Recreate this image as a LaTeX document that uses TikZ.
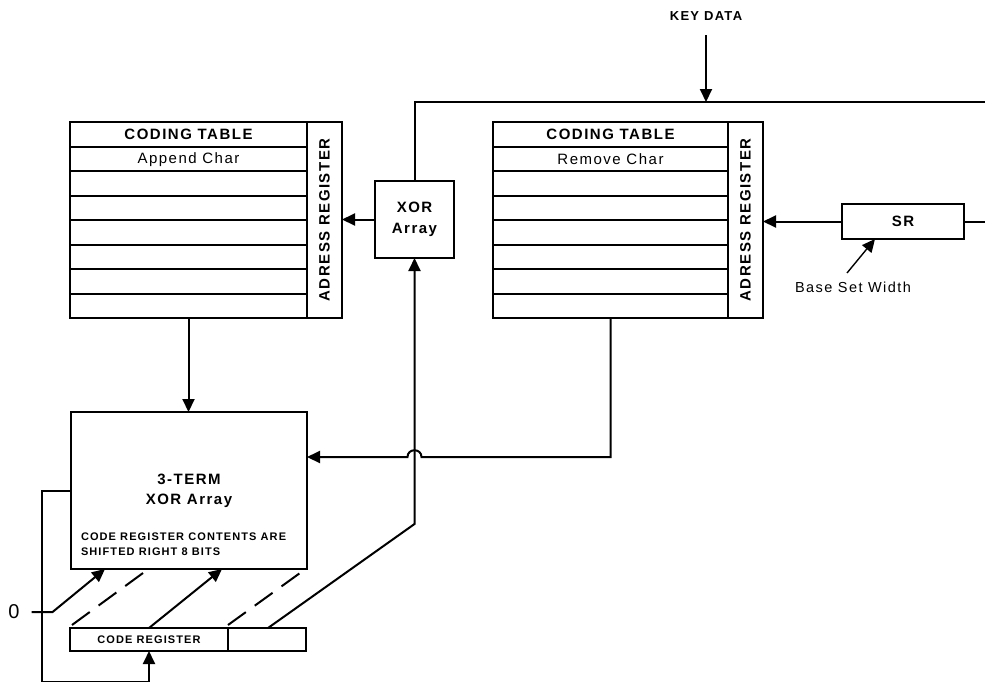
\documentclass[tikz,border=0pt]{standalone}
\usepackage{fontspec}
\setmainfont{Liberation Sans}[LetterSpace=10]
\usetikzlibrary{arrows.meta,calc}
\begin{document}
\begin{tikzpicture}[x=1pt,y=-1pt,line width=2pt,
  box/.style={draw,line width=2pt,inner sep=0pt,outer sep=0pt},
  arr/.style={-{Triangle[length=13pt,width=12pt]}},
  dsh/.style={dash pattern=on 22pt off 11pt},
  hdr/.style={inner sep=0pt,font=\fontsize{15}{18}\selectfont\bfseries},
  reg/.style={inner sep=0pt,font=\fontsize{15}{18}\selectfont},
  small/.style={inner sep=0pt,font=\fontsize{11}{15}\selectfont\bfseries}]
\useasboundingbox (0,0) rectangle (985,681);

% left coding table
\node[box,minimum width=237,minimum height=196,anchor=north west] (ctL) at (70,122) {};
\node[box,minimum width=35,minimum height=196,anchor=north west] (arL) at (307,122) {};
\foreach \y in {146.5,171,195.5,220,244.5,269,293.5} \draw (70,\y) -- (307,\y);
\node[hdr] (ctLh) at (188.5,134.5) {CODING TABLE};
\node[reg] (ctLa) at (188.5,159.5) {Append Char};
\node[hdr,rotate=90] (arLt) at (324.5,220) {ADRESS REGISTER};

% right coding table
\node[box,minimum width=235,minimum height=196,anchor=north west] (ctR) at (493,122) {};
\node[box,minimum width=35,minimum height=196,anchor=north west] (arR) at (728,122) {};
\foreach \y in {146.5,171,195.5,220,244.5,269,293.5} \draw (493,\y) -- (728,\y);
\node[hdr] (ctRh) at (610.5,134.5) {CODING TABLE};
\node[reg] (ctRa) at (610.5,159.5) {Remove Char};
\node[hdr,rotate=90] (arRt) at (745.5,220) {ADRESS REGISTER};

% XOR array
\node[box,minimum width=79,minimum height=77,align=center,font=\fontsize{15}{21}\selectfont\bfseries] (xor) at (414.5,219.5) {XOR\\Array};

% SR
\node[box,minimum width=122,minimum height=35,font=\fontsize{15}{18}\selectfont\bfseries] (sr) at (903,221.5) {SR};
\node[reg,font=\fontsize{14.5}{17}\selectfont] (bsw) at (853,287) {Base Set Width};

% 3-term
\node[box,minimum width=236,minimum height=157,align=center,font=\fontsize{15}{20}\selectfont\bfseries] (term) at (189,490.5) {3-TERM\\XOR Array};
\node[small,anchor=west,align=left] (note) at (80,544.5) {CODE REGISTER CONTENTS ARE\\SHIFTED RIGHT 8 BITS};

% code register
\node[box,minimum width=158,minimum height=23,anchor=north west,font=\fontsize{11}{13}\selectfont\bfseries] (cr) at (70,628) {CODE REGISTER};
\node[box,minimum width=78,minimum height=23,anchor=north west] (cr2) at (228,628) {};

% key data
\node[hdr,font=\fontsize{13}{15}\selectfont\bfseries] (key) at (706,16) {KEY DATA};
\coordinate (keyin) at (706,102);
\coordinate (topR) at (985,102);
\coordinate (srR) at (985,221.5);

\node[inner sep=0pt,font=\fontsize{20}{22}\selectfont] (zero) at (14,612) {0};

% connectors
\draw[arr] ([shift={(0,14)}]key.south) -- (keyin);
\draw (xor.north) |- (topR);
\draw (sr.east) -- (srR);
\draw[arr] (sr.west) -- (arR.east |- sr.west);
\draw[arr] (xor.west) -- (arL.east |- xor.west);
\draw[arr,line width=1.4pt] ([shift={(-6,-14)}]bsw.center) -- ([shift={(-28,0)}]sr.south);
\draw[arr] (ctL.south) -- (ctL.south |- term.north);

\coordinate (hopR) at (421.5,457);
\coordinate (hopL) at (407.5,457);
\draw[arr] (ctR.south) -- (ctR.south |- hopR) -- (hopR)
  .. controls ($(hopR)+(0,-9)$) and ($(hopL)+(0,-9)$) .. (hopL) -- (term.east |- hopL);

\coordinate (bend) at (414.5,524);
\draw[arr] ([shift={(40,0)}]cr2.north west) -- (bend) -- (xor.south);

\draw[arr] (term.west) -- (42,490.5) -- (42,681.8) -- (149,681.8) -- (cr.south);

\draw[arr] ([shift={(11,0)}]zero.east) -- ++(21,0) -- ([shift={(34,0)}]term.south west);
\draw[arr] (cr.north) -- ([shift={(33,0)}]term.south);
\draw[dsh] ([shift={(2,-3)}]cr.north west) -- ([shift={(72,4)}]term.south west);
\draw[dsh] ([shift={(0,-3)}]cr2.north west) -- ([shift={(-7,4)}]term.south east);
\end{tikzpicture}
\end{document}
